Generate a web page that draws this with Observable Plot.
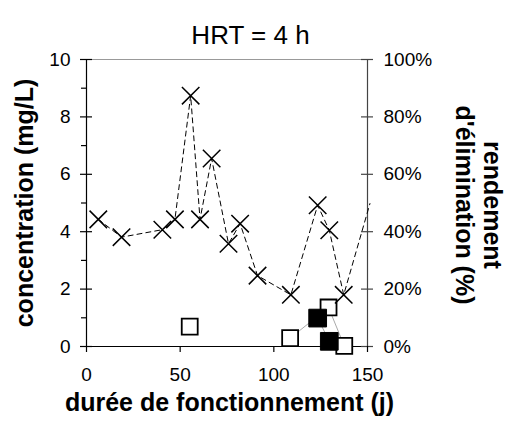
<!DOCTYPE html>
<html><head><meta charset="utf-8">
<script src="https://cdn.jsdelivr.net/npm/d3@7"></script>
<script src="https://cdn.jsdelivr.net/npm/@observablehq/plot@0.6"></script>
<style>body{margin:0;background:#fff} svg{display:block}</style>
</head><body><div id="chart"></div>
<script>
// rendement d'élimination (%) — crosses, dashed line (last point lies just past the axis end)
const rendDays = [6.3, 18.7, 40.5, 47.2, 55.6, 60.6, 66.8, 75.8, 82.0, 91.3, 109.1, 123.4, 129.6, 137.3, 151.3];
const rendPct  = [44.3, 38.1, 40.7, 44.3, 87.4, 44.3, 65.5, 35.8, 42.8, 24.7, 18.0, 49.2, 40.5, 18.0, 49.8];
// concentrations (mg/L)
const openDays = [55.1, 108.7, 129.2, 137.6];
const openConc = [0.69, 0.29, 1.36, 0.02];
const filledDays = [123.4, 129.6];
const filledConc = [0.99, 0.18];
// ticks
const xTicks = [0, 50, 100, 150];
const yTicks = [0, 2, 4, 6, 8, 10];
const yMinor = [1, 3, 5, 7, 9];

const W = 517, H = 431, mL = 86, mR = 150, mT = 59, mB = 85;
const innerW = W - mL - mR, innerH = H - mT - mB;

const rend = rendDays.map((d, i) => ({day: d, v: rendPct[i] / 10}));
const open = openDays.map((d, i) => ({day: d, v: openConc[i]}));
const filled = filledDays.map((d, i) => ({day: d, v: filledConc[i]}));

const chart = Plot.plot({
  width: W, height: H,
  marginLeft: mL, marginRight: mR, marginTop: mT, marginBottom: mB,
  style: {fontFamily: "'Liberation Sans', Arial, sans-serif", fontSize: "19px", background: "white", overflow: "visible"},
  x: {domain: [0, 150]},
  y: {domain: [0, 10]},
  marks: [
    Plot.ruleY([yTicks[yTicks.length - 1]], {stroke: "#999", strokeWidth: 1.2}),
    Plot.ruleX([xTicks[0]], {stroke: "black", strokeWidth: 1.2}),
    Plot.ruleX([xTicks[xTicks.length - 1]], {stroke: "#444", strokeWidth: 1.2}),
    Plot.ruleY([yTicks[0]], {stroke: "black", strokeWidth: 1.2}),
    Plot.tickY(yTicks, {y: d => d, insetLeft: -6, insetRight: innerW - 6, stroke: "black", strokeWidth: 1.2}),
    Plot.tickY(yMinor, {y: d => d, insetLeft: -5, insetRight: innerW, stroke: "black", strokeWidth: 1.2}),
    Plot.tickY(yTicks, {y: d => d, insetLeft: innerW - 6, insetRight: -6, stroke: "#444", strokeWidth: 1.2}),
    Plot.tickX(xTicks, {x: d => d, insetTop: innerH, insetBottom: -6, stroke: "black", strokeWidth: 1.2}),
    Plot.axisY({anchor: "left", ticks: yTicks, tickSize: 0, tickPadding: 16, label: null}),
    Plot.axisY({anchor: "right", ticks: yTicks, tickSize: 0, tickPadding: 16, label: null, tickFormat: d => (d * 10) + "%"}),
    Plot.axisX({ticks: xTicks, tickSize: 0, tickPadding: 21, label: null}),
    Plot.text(["HRT = 4 h"], {frameAnchor: "top", dx: 23.5, dy: -34, fontSize: 26}),
    Plot.text(["concentration (mg/L)"], {frameAnchor: "left", textAnchor: "middle", lineAnchor: "middle", rotate: -90, dx: -62, fontSize: 25, fontWeight: "bold"}),
    Plot.text(["rendement\nd'élimination (%)"], {frameAnchor: "right", textAnchor: "middle", lineAnchor: "middle", rotate: 90, dx: 111, dy: 2, fontSize: 25, fontWeight: "bold", lineHeight: 1.12}),
    Plot.text(["durée de fonctionnement (j)"], {frameAnchor: "bottom", textAnchor: "middle", lineAnchor: "middle", dx: 2.5, dy: 56, fontSize: 25, fontWeight: "bold"}),
    Plot.line(rend, {x: "day", y: "v", stroke: "black", strokeWidth: 1, strokeDasharray: "5,4"}),
    Plot.line(open.slice(1), {x: "day", y: "v", stroke: "#aaa", strokeWidth: 1}),
    Plot.line(filled, {x: "day", y: "v", stroke: "#aaa", strokeWidth: 1}),
    Plot.dot(open, {x: "day", y: "v", symbol: "square", r: 9, fill: "white", stroke: "black", strokeWidth: 1.8}),
    Plot.dot(filled, {x: "day", y: "v", symbol: "square", r: 10, fill: "black", stroke: "black", strokeWidth: 1}),
    Plot.dot(rend.filter(d => d.day <= 150), {x: "day", y: "v", symbol: "times", r: 8, stroke: "black", strokeWidth: 1.5})
  ]
});
document.getElementById("chart").appendChild(chart);
</script>
</body></html>
